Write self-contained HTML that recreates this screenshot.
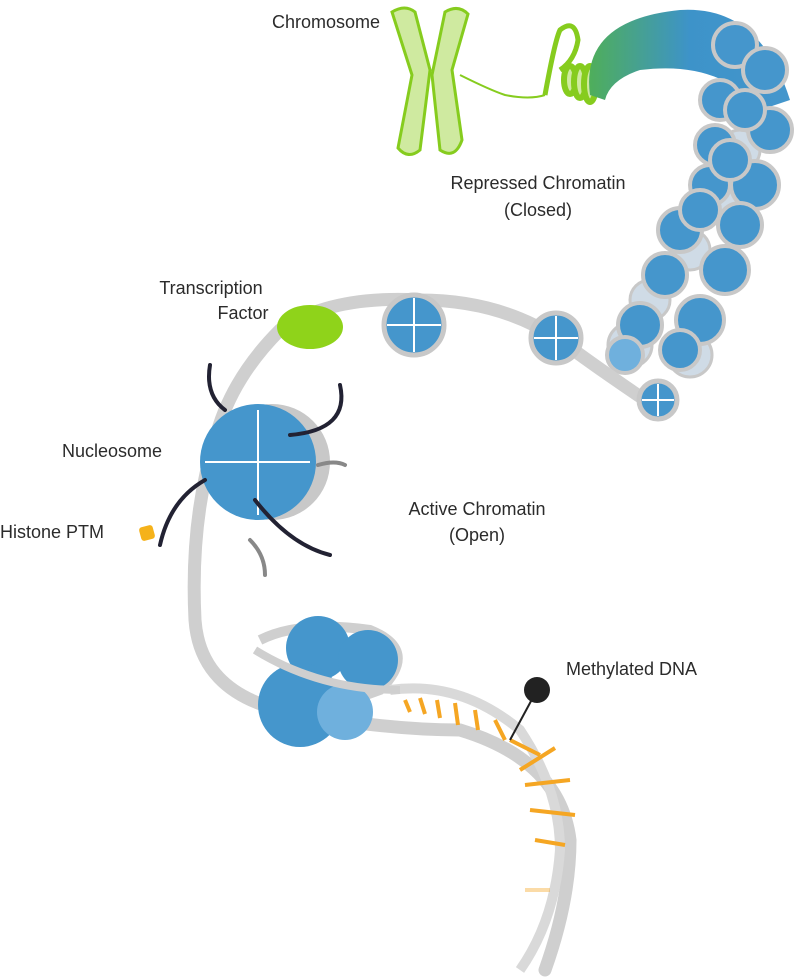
<!DOCTYPE html>
<html><head><meta charset="utf-8"><style>
html,body{margin:0;padding:0;background:#fff;}
svg{display:block;}
text{font-family:"Liberation Sans",sans-serif;font-size:18px;fill:#2b2b2b;}
</style></head><body>
<svg width="800" height="978" viewBox="0 0 800 978" xmlns="http://www.w3.org/2000/svg">
<defs>
<linearGradient id="fib" x1="0" y1="0" x2="1" y2="0">
<stop offset="0" stop-color="#4fae5a"/><stop offset="0.5" stop-color="#3d93c9"/><stop offset="1" stop-color="#4596cc"/>
</linearGradient>
</defs>

<!-- Chromosome -->
<g fill="#cfeaa0" stroke="#86cc1e" stroke-width="3">
<path d="M392 12 Q405 4 415 12 L430 70 L420 150 Q408 160 398 148 L412 75 Z"/>
<path d="M445 12 Q458 4 468 14 L452 70 L462 140 Q455 160 440 150 L432 75 Z"/>
</g>
<path d="M460 75 Q490 90 505 95 Q530 100 545 95" stroke="#86cc1e" stroke-width="2" fill="none"/>
<path d="M545 95 Q555 40 560 30 Q575 18 578 40 Q575 60 560 70" stroke="#86cc1e" stroke-width="5" fill="none"/>
<g stroke="#86cc1e" stroke-width="6" fill="#cfeaa0">
<ellipse cx="570" cy="80" rx="6" ry="14"/><ellipse cx="580" cy="82" rx="6" ry="16"/><ellipse cx="590" cy="84" rx="6" ry="18"/>
</g>
<path d="M590 95 Q580 20 680 10 Q760 5 790 100 L760 110 Q720 60 640 70 Q610 80 605 100 Z" fill="url(#fib)"/>

<!-- Repressed column -->
<g fill="#cfdbe6" stroke="#c8c8c8" stroke-width="3">
<circle cx="630" cy="345" r="22"/><circle cx="690" cy="355" r="22"/><circle cx="650" cy="300" r="20"/><circle cx="690" cy="250" r="20"/><circle cx="720" cy="200" r="20"/><circle cx="740" cy="150" r="20"/>
</g>
<g fill="#4596cc" stroke="#c8c8c8" stroke-width="4">
<circle cx="735" cy="45" r="22"/><circle cx="765" cy="70" r="22"/><circle cx="720" cy="100" r="20"/><circle cx="770" cy="130" r="22"/>
<circle cx="745" cy="110" r="20"/>
<circle cx="715" cy="145" r="20"/><circle cx="755" cy="185" r="24"/><circle cx="710" cy="185" r="20"/><circle cx="740" cy="225" r="22"/>
<circle cx="680" cy="230" r="22"/><circle cx="725" cy="270" r="24"/><circle cx="665" cy="275" r="22"/><circle cx="700" cy="320" r="24"/>
<circle cx="640" cy="325" r="22"/><circle cx="680" cy="350" r="20"/><circle cx="625" cy="355" r="18" fill="#6fb0dd"/>
<circle cx="700" cy="210" r="20"/><circle cx="730" cy="160" r="20"/>
</g>

<!-- Gray DNA strand -->
<path d="M660 410 Q600 370 560 340 Q500 300 420 300 Q330 295 280 330 Q230 380 215 440 Q190 520 195 620 Q200 690 280 710 Q380 730 460 730 Q560 760 570 840 Q570 900 545 970" stroke="#cfcfcf" stroke-width="13" fill="none" stroke-linecap="round"/>
<path d="M260 640 Q300 620 370 630 Q420 650 380 690 Q300 720 270 700" stroke="#cfcfcf" stroke-width="10" fill="none"/>
<path d="M390 690 Q460 680 520 730 Q560 790 560 850 Q555 920 520 970" stroke="#d9d9d9" stroke-width="10" fill="none"/>

<g stroke="#f5a623" stroke-width="4">
<line x1="405" y1="700" x2="410" y2="712"/><line x1="420" y1="698" x2="425" y2="714"/><line x1="437" y1="700" x2="440" y2="718"/>
<line x1="455" y1="703" x2="458" y2="725"/><line x1="475" y1="710" x2="478" y2="730"/><line x1="495" y1="720" x2="505" y2="740"/>
<line x1="510" y1="740" x2="540" y2="755"/><line x1="520" y1="770" x2="555" y2="748"/><line x1="525" y1="785" x2="570" y2="780"/>
<line x1="530" y1="810" x2="575" y2="815"/><line x1="535" y1="840" x2="565" y2="845"/><line x1="525" y1="890" x2="550" y2="890" stroke-opacity=".4"/>
</g>
<line x1="537" y1="690" x2="510" y2="740" stroke="#222" stroke-width="2"/>
<circle cx="537" cy="690" r="13" fill="#222"/>

<g fill="#4596cc">
<circle cx="318" cy="648" r="32"/><circle cx="368" cy="660" r="30"/><circle cx="300" cy="705" r="42"/><circle cx="345" cy="712" r="28" fill="#6fb0dd"/>
</g>
<path d="M255 650 Q320 690 400 690" stroke="#cfcfcf" stroke-width="8" fill="none"/>

<g stroke="#c8c8c8" stroke-width="5" fill="#4596cc">
<circle cx="414" cy="325" r="30"/><circle cx="556" cy="338" r="25"/><circle cx="658" cy="400" r="19"/>
</g>
<g stroke="#fff" stroke-width="2">
<line x1="414" y1="298" x2="414" y2="352"/><line x1="387" y1="325" x2="441" y2="325"/>
<line x1="556" y1="316" x2="556" y2="360"/><line x1="534" y1="338" x2="578" y2="338"/>
<line x1="658" y1="384" x2="658" y2="416"/><line x1="642" y1="400" x2="674" y2="400"/>
</g>

<ellipse cx="310" cy="327" rx="33" ry="22" fill="#8fd31a"/>

<circle cx="272" cy="462" r="58" fill="#c8c8c8"/>
<circle cx="258" cy="462" r="58" fill="#4596cc"/>
<path d="M205 462 L310 462 M258 410 L258 515" stroke="#fff" stroke-width="2"/>
<g stroke="#223" stroke-width="4" fill="none" stroke-linecap="round">
<path d="M210 365 Q205 395 225 410"/><path d="M340 385 Q350 430 290 435"/><path d="M160 545 Q170 500 205 480"/><path d="M330 555 Q290 545 255 500"/>
</g>
<g stroke="#888" stroke-width="4" fill="none" stroke-linecap="round">
<path d="M318 465 Q335 460 345 465"/><path d="M265 575 Q265 555 250 540"/>
</g>
<rect x="140" y="526" width="14" height="14" rx="3" fill="#f5b21a" transform="rotate(-15 147 533)"/>

<text x="272" y="28">Chromosome</text>
<text x="538" y="189" text-anchor="middle">Repressed Chromatin</text>
<text x="538" y="216" text-anchor="middle">(Closed)</text>
<text x="211" y="294" text-anchor="middle">Transcription</text>
<text x="243" y="319" text-anchor="middle">Factor</text>
<text x="62" y="457">Nucleosome</text>
<text x="0" y="538">Histone PTM</text>
<text x="477" y="515" text-anchor="middle">Active Chromatin</text>
<text x="477" y="541" text-anchor="middle">(Open)</text>
<text x="566" y="675">Methylated DNA</text>
</svg>
</body></html>
